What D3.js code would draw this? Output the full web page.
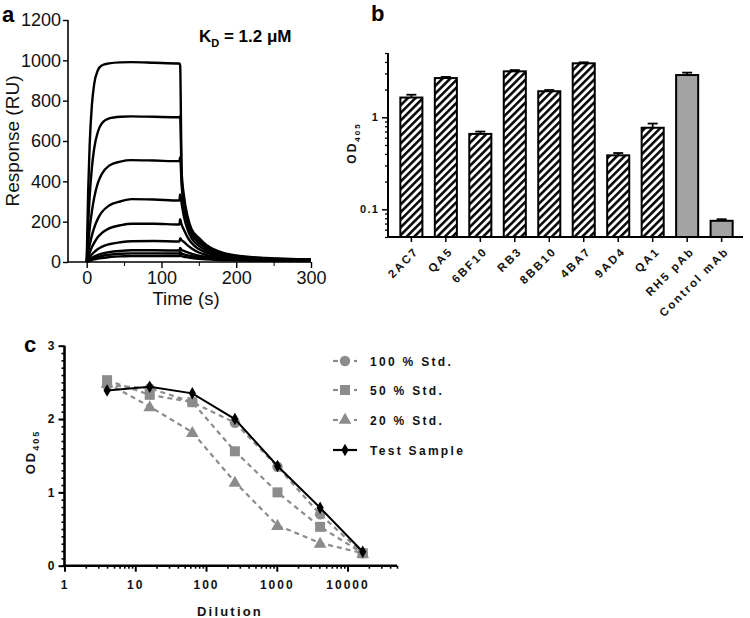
<!DOCTYPE html>
<html><head><meta charset="utf-8">
<script src="https://cdn.jsdelivr.net/npm/d3@7"></script>
<style>
html,body{margin:0;padding:0;background:#fff;}
svg{display:block;font-family:"Liberation Sans",Arial,Helvetica,sans-serif;}
</style></head>
<body>
<svg id="chart" width="750" height="618"></svg>
<script>
// ---------- Panel a: SPR sensorgram ----------
const sprTimes = [0,2,4,7,10,15,20,30,45,60,90,124,125,127,130,135,140,150,160,175,200,240,300];
const sprCurve1 = [0,356,583,780,882,951,974,985,990,991,988,984, 975,450,330,225,165,120,85,55,32,20,13];
const sprCurve2 = [0,188,326,469,563,646,686,712,720,722,720,718, 722,420,305,210,155,108,78,50,29,18,12];
const sprCurve3 = [0,91,166,252,318,392,435,478,498,505,503,500, 520,380,275,190,140,95,68,44,26,16,11];
const sprCurve4 = [0,46,84,132,169,215,246,280,300,312,310,305, 335,290,225,160,120,80,57,38,23,14,10];
const sprCurve5 = [0,25,46,74,95,124,143,167,182,190,190,186, 212,185,160,122,95,64,46,31,19,12,9];
const sprCurve6 = [0,12,23,38,49,64,75,88,98,103,104,102, 118,108,100,82,68,47,35,24,15,10,8];
const sprCurve7 = [0,6,12,20,27,35,41,49,55,58,58,57, 70,60,55,48,42,31,25,18,12,9,7];
const sprCurve8 = [0,4,9,15,20,26,30,36,41,43,43,42, 50,42,38,33,29,22,18,14,10,8,6];
const sprCurve9 = [0,3,6,10,13,17,20,24,28,30,30,29, 35,29,26,23,20,16,13,10,8,6,5];
const sprCurves = [sprCurve1,sprCurve2,sprCurve3,sprCurve4,sprCurve5,sprCurve6,sprCurve7,sprCurve8,sprCurve9];
const aYTicks = [0,200,400,600,800,1000,1200];
const aXTicks = [0,100,200,300];
const aXMinor = [50,150,250];

// ---------- Panel b: ELISA bars ----------
const bNames = ["2AC7","QA5","6BF10","RB3","8BB10","4BA7","9AD4","QA1","RH5 pAb","Control mAb"];
const bValues = [1.64, 2.67, 0.66, 3.16, 1.92, 3.86, 0.386, 0.77, 2.88, 0.075];
const bErrors = [0.12, 0.08, 0.04, 0.10, 0.06, 0.10, 0.023, 0.085, 0.18, 0.003];
const bHatched = [true,true,true,true,true,true,true,true,false,false];
const bMajor = [0.1, 1];
const bMinor = [0.05,0.06,0.07,0.08,0.09,0.2,0.3,0.4,0.5,0.6,0.7,0.8,0.9,2,3,4,5];

// ---------- Panel c: dilution curves ----------
const dilutions = [4,16,64,256,1024,4096,16384];
const std100 = [2.46, 2.42, 2.23, 1.95, 1.35, 0.70, 0.17];
const std50  = [2.53, 2.33, 2.23, 1.56, 1.00, 0.53, 0.17];
const std20  = [2.49, 2.17, 1.82, 1.14, 0.55, 0.31, 0.17];
const testSample = [2.39, 2.44, 2.35, 2.00, 1.36, 0.79, 0.19];
const cSeriesNames = ["100 % Std.","50 % Std.","20 % Std.","Test Sample"];
const cXTicks = [1,10,100,1000,10000];
const cYTicks = [0,1,2,3];

const svg = d3.select("#chart");
const FONT = '"Liberation Sans",Arial,Helvetica,sans-serif';

// ================= Panel a =================
(function(){
  const x = d3.scaleLinear().domain([-25,300]).range([68,311]);
  const y = d3.scaleLinear().domain([0,1200]).range([262,20]);
  const g = svg.append("g");
  const ax = g.append("g").attr("transform","translate(0,262)")
    .call(d3.axisBottom(x).tickValues(aXTicks).tickSize(6).tickPadding(3).tickFormat(d3.format("d")));
  ax.select(".domain").remove();
  g.append("g").attr("transform","translate(0,262)")
    .call(d3.axisBottom(x).tickValues(aXMinor).tickSize(4).tickFormat(""))
    .select(".domain").remove();
  g.append("line").attr("x1",68).attr("x2",311).attr("y1",262).attr("y2",262)
    .attr("stroke","#000").attr("stroke-width",1.6);
  ax.selectAll("text").attr("font-size",18).attr("fill","#111").attr("font-family",FONT);
  ax.selectAll("line").attr("stroke-width",1.4);
  const ay = g.append("g").attr("transform","translate(68,0)")
    .call(d3.axisLeft(y).tickValues(aYTicks).tickSize(5).tickPadding(2).tickFormat(d3.format("d")));
  ay.select(".domain").attr("stroke-width",1.6).attr("d","M0,20V262");
  ay.selectAll("line").attr("stroke-width",1.4);
  ay.selectAll("text").attr("font-size",18).attr("fill","#111").attr("font-family",FONT);
  g.append("text").attr("transform","translate(19,141) rotate(-90)")
    .attr("text-anchor","middle").attr("font-size",19).attr("fill","#111").text("Response (RU)");
  g.append("text").attr("x",186).attr("y",305).attr("text-anchor","middle")
    .attr("font-size",18.5).attr("fill","#111").text("Time (s)");
  const line = d3.line().x((d,i)=>x(sprTimes[i])).y(d=>y(d)).curve(d3.curveMonotoneX);
  g.append("g").selectAll("path").data(sprCurves).join("path")
    .attr("d",line).attr("fill","none").attr("stroke","#000").attr("stroke-width",2.4)
    .attr("stroke-linejoin","round");
  const kd = g.append("text").attr("x",199).attr("y",42).attr("font-size",17).attr("font-weight","bold");
  kd.append("tspan").text("K");
  kd.append("tspan").attr("font-size",11).attr("dy",5).text("D");
  kd.append("tspan").attr("dy",-5).text(" = 1.2 \u03BCM");
  svg.append("text").attr("x",2).attr("y",22).attr("font-size",22).attr("font-weight","bold").text("a");
})();

// ================= Panel b =================
(function(){
  const defs = svg.append("defs");
  const pat = defs.append("pattern").attr("id","hatch").attr("patternUnits","userSpaceOnUse")
    .attr("width",5.4).attr("height",10).attr("patternTransform","rotate(45)");
  pat.append("rect").attr("width",5.4).attr("height",10).attr("fill","#fff");
  pat.append("line").attr("x1",1.3).attr("x2",1.3).attr("y1",0).attr("y2",10)
    .attr("stroke","#000").attr("stroke-width",2.5);
  const x = d3.scaleBand().domain(bNames).range([390,743]).paddingInner(0.36).paddingOuter(0.3);
  const y = d3.scaleLog().domain([0.05,5]).range([237,53]);
  const g = svg.append("g");
  g.append("g").selectAll("line").data(bNames).join("line")
    .attr("x1",d=>x(d)+x.bandwidth()/2).attr("x2",d=>x(d)+x.bandwidth()/2)
    .attr("y1",(d,i)=>y(bValues[i])).attr("y2",(d,i)=>y(bValues[i]+bErrors[i]))
    .attr("stroke","#000").attr("stroke-width",1.8);
  g.append("g").selectAll("line").data(bNames).join("line")
    .attr("x1",d=>x(d)+x.bandwidth()/2-5).attr("x2",d=>x(d)+x.bandwidth()/2+5)
    .attr("y1",(d,i)=>y(bValues[i]+bErrors[i])).attr("y2",(d,i)=>y(bValues[i]+bErrors[i]))
    .attr("stroke","#000").attr("stroke-width",1.8);
  g.append("g").selectAll("rect").data(bNames).join("rect")
    .attr("x",d=>x(d)).attr("width",x.bandwidth())
    .attr("y",(d,i)=>y(bValues[i])).attr("height",(d,i)=>237-y(bValues[i]))
    .attr("fill",(d,i)=>bHatched[i]?"url(#hatch)":"#a3a3a3")
    .attr("stroke","#000").attr("stroke-width",2);
  const ax = g.append("g").attr("transform","translate(0,237)")
    .call(d3.axisBottom(x).tickSize(5).tickFormat(""));
  ax.select(".domain").remove();
  ax.selectAll("line").attr("stroke-width",1.5);
  g.append("line").attr("x1",387).attr("x2",743).attr("y1",237).attr("y2",237)
    .attr("stroke","#000").attr("stroke-width",2);
  g.append("g").selectAll("text").data(bNames).join("text")
    .attr("transform",d=>`translate(${x(d)+x.bandwidth()/2+8},${252}) rotate(-45)`)
    .attr("text-anchor","end").attr("font-size",11.5).attr("font-weight","bold")
    .attr("letter-spacing",2.1).attr("fill","#111").text(d=>d);
  const ay = g.append("g").attr("transform","translate(388,0)")
    .call(d3.axisLeft(y).tickValues(bMajor).tickSize(6).tickPadding(3).tickFormat(d=>d===1?"1":"0.1"));
  ay.select(".domain").attr("d","M0,53V237").attr("stroke-width",2);
  ay.selectAll("line").attr("stroke-width",1.5);
  ay.selectAll("text").attr("font-size",11).attr("font-weight","bold").attr("letter-spacing",1.2).attr("fill","#111");
  g.append("g").attr("transform","translate(388,0)")
    .call(d3.axisLeft(y).tickValues(bMinor).tickSize(3).tickFormat(""))
    .call(s=>s.select(".domain").remove())
    .selectAll("line").attr("stroke-width",1.3);
  const yl = g.append("text").attr("transform","translate(356,143) rotate(-90)")
    .attr("text-anchor","middle").attr("font-size",12).attr("font-weight","bold").attr("letter-spacing",2).attr("fill","#111");
  yl.append("tspan").text("OD");
  yl.append("tspan").attr("font-size",8).attr("dy",4).text("405");
  svg.append("text").attr("x",371).attr("y",21).attr("font-size",22).attr("font-weight","bold").text("b");
})();

// ================= Panel c =================
(function(){
  const x = d3.scaleLog().domain([1,50000]).range([64.5,397]);
  const y = d3.scaleLinear().domain([0,3]).range([565.7,345.7]);
  const g = svg.append("g");
  const grey = "#8c8c8c";
  const ax = g.append("g").attr("transform","translate(0,565.7)")
    .call(d3.axisBottom(x).tickValues(cXTicks).tickSize(6).tickPadding(9).tickFormat(d3.format("d")));
  ax.select(".domain").remove();
  ax.selectAll("line").attr("stroke-width",2);
  ax.selectAll("text").attr("font-size",12).attr("font-weight","bold").attr("letter-spacing",2).attr("fill","#111");
  const minorX = [];
  [1,10,100,1000,10000].forEach(dec=>{for(let k=2;k<=9;k++){const v=dec*k; if(v<=50000) minorX.push(v);}});
  g.append("g").attr("transform","translate(0,565.7)")
    .call(d3.axisBottom(x).tickValues(minorX).tickSize(3).tickFormat(""))
    .call(s=>s.select(".domain").remove())
    .selectAll("line").attr("stroke-width",1.6);
  g.append("line").attr("x1",63).attr("x2",397).attr("y1",565.7).attr("y2",565.7)
    .attr("stroke","#000").attr("stroke-width",2.6);
  const ay = g.append("g").attr("transform","translate(64.5,0)")
    .call(d3.axisLeft(y).tickValues(cYTicks).tickSize(6).tickPadding(4).tickFormat(d3.format("d")));
  ay.select(".domain").attr("d","M0,345.7V567").attr("stroke-width",2.6);
  ay.selectAll("line").attr("stroke-width",2);
  ay.selectAll("text").attr("font-size",12).attr("font-weight","bold").attr("fill","#111");
  g.append("g").attr("transform","translate(64.5,0)")
    .call(d3.axisLeft(y).tickValues(d3.range(0,30).map(i=>i/10)).tickSize(3).tickFormat(""))
    .call(s=>s.select(".domain").remove())
    .selectAll("line").attr("stroke-width",1.6);
  const yl = g.append("text").attr("transform","translate(35,452) rotate(-90)")
    .attr("text-anchor","middle").attr("font-size",13).attr("font-weight","bold").attr("letter-spacing",2).attr("fill","#111");
  yl.append("tspan").text("OD");
  yl.append("tspan").attr("font-size",9).attr("dy",4).text("405");
  g.append("text").attr("x",230).attr("y",616).attr("text-anchor","middle").attr("font-size",13)
    .attr("font-weight","bold").attr("letter-spacing",2.2).attr("fill","#111").text("Dilution");

  const line = d3.line().x((d,i)=>x(dilutions[i])).y(d=>y(d));
  const symCircle = d3.symbol().type(d3.symbolCircle).size(85);
  const symSquare = d3.symbol().type(d3.symbolSquare).size(100);
  const symTri = d3.symbol().type(d3.symbolTriangle).size(70);
  const symDiamond = d3.symbol().type(d3.symbolDiamond).size(45);
  const series = [
    {vals:std20, sym:symTri, color:grey, dash:"5,4", dy:1},
    {vals:std50, sym:symSquare, color:grey, dash:"5,4", dy:0},
    {vals:std100, sym:symCircle, color:grey, dash:"5,4", dy:0},
    {vals:testSample, sym:symDiamond, color:"#000", dash:null, dy:0}
  ];
  series.forEach(s=>{
    g.append("path").attr("d",line(s.vals)).attr("fill","none").attr("stroke",s.color)
      .attr("stroke-width",s.dash?2.2:2).attr("stroke-dasharray",s.dash);
    g.append("g").selectAll("path").data(s.vals).join("path")
      .attr("transform",(d,i)=>`translate(${x(dilutions[i])},${y(d)+s.dy})`)
      .attr("d",s.sym()).attr("fill",s.color);
  });
  const leg = [
    {name:cSeriesNames[0], sym:symCircle, color:grey, dash:true, y:361},
    {name:cSeriesNames[1], sym:symSquare, color:grey, dash:true, y:390},
    {name:cSeriesNames[2], sym:symTri, color:grey, dash:true, y:420},
    {name:cSeriesNames[3], sym:symDiamond, color:"#000", dash:false, y:450}
  ];
  leg.forEach(l=>{
    if(l.dash){
      g.append("line").attr("x1",333).attr("x2",338).attr("y1",l.y).attr("y2",l.y).attr("stroke",l.color).attr("stroke-width",2.2);
      g.append("line").attr("x1",354).attr("x2",357).attr("y1",l.y).attr("y2",l.y).attr("stroke",l.color).attr("stroke-width",2.2);
    } else {
      g.append("line").attr("x1",333).attr("x2",357).attr("y1",l.y).attr("y2",l.y).attr("stroke",l.color).attr("stroke-width",2.2);
    }
    g.append("path").attr("transform",`translate(345,${l.y})`).attr("d",l.sym()).attr("fill",l.color);
    g.append("text").attr("x",370).attr("y",l.y+4.5).attr("font-size",12).attr("font-weight","bold")
      .attr("letter-spacing",2.3).attr("fill","#111").text(l.name);
  });
  svg.append("text").attr("x",24).attr("y",352).attr("font-size",22).attr("font-weight","bold").text("c");
})();
</script>
</body></html>
